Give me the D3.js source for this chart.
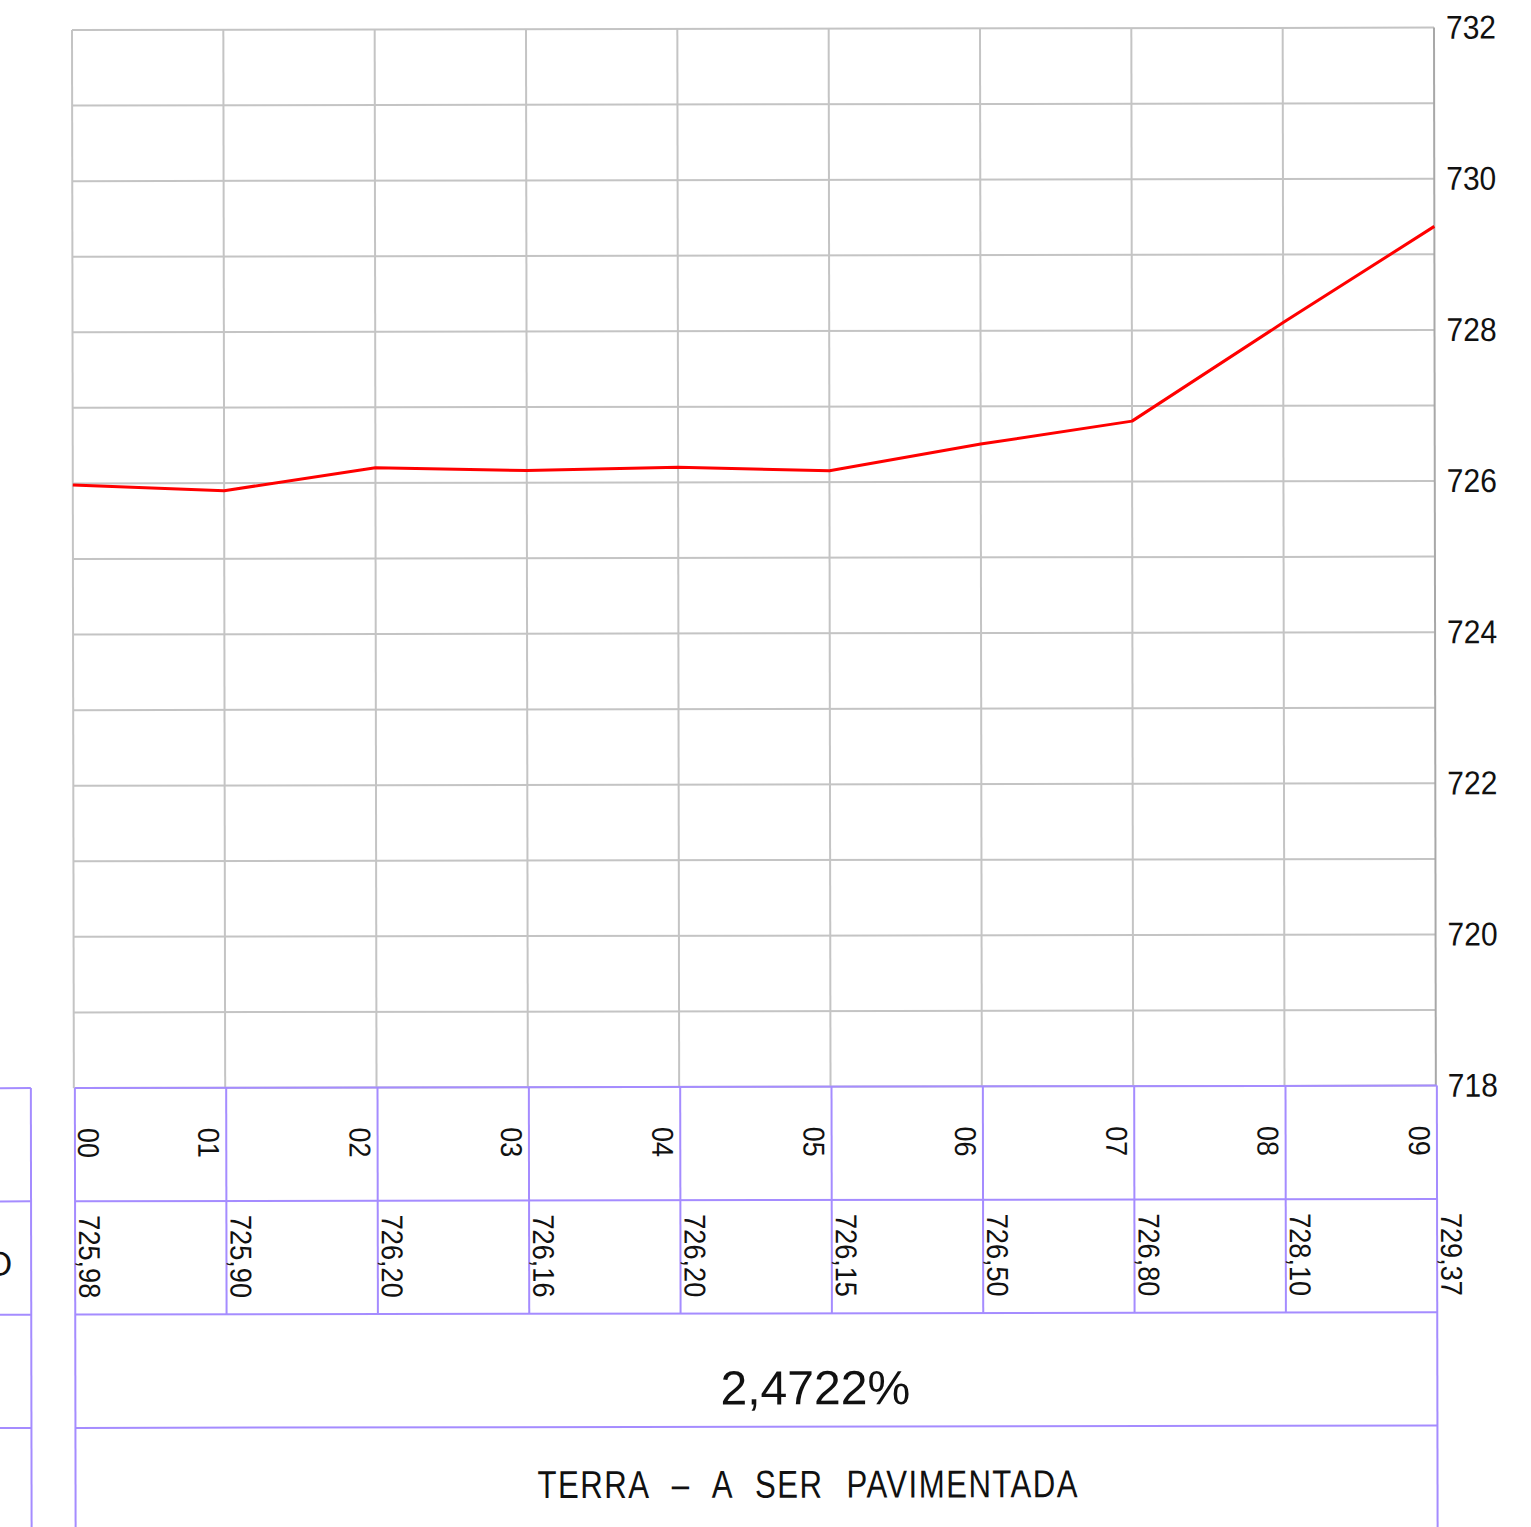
<html>
   <head>
        <meta charset="utf-8">
        <script src="https://cdnjs.cloudflare.com/ajax/libs/d3/7.8.5/d3.min.js"></script>
        <style>
            body { margin: 0; background: white; }
            svg { display: block; }
        </style>
    </head>

   <body>
        <svg width="1531" height="1527"></svg>
        <script>
            // profile data
            const stations = ["00", "01", "02", "03", "04", "05", "06", "07", "08", "09"];
            const elevations = [725.98, 725.90, 726.20, 726.16, 726.20, 726.15, 726.50, 726.80, 728.10, 729.37];
            const yTicks = [718, 720, 722, 724, 726, 728, 730, 732];
            const slopeLabel = "2,4722%";
            const surfaceLabel = "TERRA – A SER PAVIMENTADA";
            const legendLabel = "COTA DO TERRENO";

            const font = "'Liberation Sans', Arial, sans-serif";
            const gridColor = "#c4c4c4";
            const purple = "#a58cff";

            const gLeft = 72, gRight = 1434, gTop = 30, gBottom = 1088;
            const rowH = 113.3;

            const ptBr = d3.formatLocale({decimal: ",", thousands: ".", grouping: [3], currency: ["R$", ""]});
            const fmt = ptBr.format(".2f");

            const x = d3.scaleLinear()
                        .domain([0, stations.length - 1])
                        .range([gLeft, gRight]);

            const y = d3.scaleLinear()
                        .domain([718, 732])
                        .range([gBottom, gTop]);

            // the whole sheet is very slightly rotated, like the CAD plot
            const main = d3.select("svg")
                           .append("g")
                           .attr("transform", `rotate(-0.1, ${gLeft}, ${gTop})`);

            // grid
            main.append("g")
                .selectAll("line")
                .data(y.ticks(14))
                .join("line")
                .attr("x1", gLeft)
                .attr("x2", gRight)
                .attr("y1", d => y(d))
                .attr("y2", d => y(d))
                .attr("stroke", gridColor)
                .attr("stroke-width", 2);

            main.append("g")
                .selectAll("line")
                .data(stations)
                .join("line")
                .attr("x1", (d, i) => x(i))
                .attr("x2", (d, i) => x(i))
                .attr("y1", gTop)
                .attr("y2", gBottom)
                .attr("stroke", (d, i) => i === stations.length - 1 ? "#a8a8a8" : gridColor)
                .attr("stroke-width", 2);

            // elevation labels on the right
            let yAxis = d3.axisRight(y)
                          .tickValues(yTicks)
                          .tickSize(0)
                          .tickPadding(12);

            let axisG = main.append("g")
                            .attr("transform", `translate(${gRight}, 0)`)
                            .call(yAxis);
            axisG.select(".domain").remove();
            axisG.selectAll("text")
                 .attr("fill", "#111")
                 .attr("font-size", 33)
                 .attr("font-family", font)
                 .attr("textLength", 50)
                 .attr("lengthAdjust", "spacingAndGlyphs");

            // ground line
            const line = d3.line()
                           .x((d, i) => x(i))
                           .y(d => y(d));

            main.append("path")
                .datum(elevations)
                .attr("d", line)
                .attr("fill", "none")
                .attr("stroke", "#ff0000")
                .attr("stroke-width", 3)
                .attr("stroke-linejoin", "round");

            // table under the profile
            const table = main.append("g");
            const rows = [gBottom, gBottom + rowH, gBottom + 2 * rowH, gBottom + 3 * rowH, gBottom + 4 * rowH];

            table.selectAll(".hrow")
                 .data(rows.slice(0, 4))
                 .join("line")
                 .attr("class", "hrow")
                 .attr("x1", gLeft + 1)
                 .attr("x2", gRight + 1)
                 .attr("y1", d => d)
                 .attr("y2", d => d)
                 .attr("stroke", purple)
                 .attr("stroke-width", 2);

            table.selectAll(".vcol")
                 .data(stations)
                 .join("line")
                 .attr("class", "vcol")
                 .attr("x1", (d, i) => x(i) + 1)
                 .attr("x2", (d, i) => x(i) + 1)
                 .attr("y1", gBottom)
                 .attr("y2", (d, i) => (i === 0 || i === stations.length - 1) ? rows[4] : rows[2])
                 .attr("stroke", purple)
                 .attr("stroke-width", 2);

            // legend column, mostly off the sheet
            table.selectAll(".lrow")
                 .data(rows.slice(0, 4))
                 .join("line")
                 .attr("class", "lrow")
                 .attr("x1", -20)
                 .attr("x2", 29)
                 .attr("y1", d => d)
                 .attr("y2", d => d)
                 .attr("stroke", purple)
                 .attr("stroke-width", 2);

            table.append("line")
                 .attr("x1", 29)
                 .attr("x2", 29)
                 .attr("y1", gBottom)
                 .attr("y2", rows[4])
                 .attr("stroke", purple)
                 .attr("stroke-width", 2);

            table.append("text")
                 .text(legendLabel)
                 .attr("x", 10)
                 .attr("y", rows[1] + 74)
                 .attr("text-anchor", "end")
                 .attr("font-size", 34)
                 .attr("font-family", font)
                 .attr("fill", "#111");

            // station numbers
            table.selectAll(".sta")
                 .data(stations)
                 .join("text")
                 .attr("class", "sta")
                 .text(d => d)
                 .attr("transform", (d, i) => {
                    let bx = i === 0 ? x(i) + 4 : x(i) - 27;
                    return `translate(${bx}, ${gBottom + 40}) rotate(90)`;
                 })
                 .attr("font-size", 30)
                 .attr("font-family", font)
                 .attr("textLength", 30)
                 .attr("lengthAdjust", "spacingAndGlyphs")
                 .attr("fill", "#111");

            // ground elevations
            table.selectAll(".cota")
                 .data(elevations)
                 .join("text")
                 .attr("class", "cota")
                 .text(d => fmt(d))
                 .attr("transform", (d, i) => `translate(${x(i) + 5}, ${rows[1] + 14}) rotate(90)`)
                 .attr("font-size", 30)
                 .attr("font-family", font)
                 .attr("textLength", 83)
                 .attr("lengthAdjust", "spacingAndGlyphs")
                 .attr("fill", "#111");

            // slope and surface
            table.append("text")
                 .text(slopeLabel)
                 .attr("x", 718)
                 .attr("y", rows[2] + 91)
                 .attr("font-size", 48)
                 .attr("font-family", font)
                 .attr("textLength", 190)
                 .attr("lengthAdjust", "spacingAndGlyphs")
                 .attr("fill", "#111");

            // CAD text is narrow with wide gaps: squeeze glyphs, then spread
            table.append("g")
                 .attr("transform", `translate(535, ${rows[3] + 71}) scale(0.8, 1)`)
                 .append("text")
                 .text(surfaceLabel)
                 .attr("x", 0)
                 .attr("y", 0)
                 .attr("font-size", 39)
                 .attr("font-family", font)
                 .attr("word-spacing", 16)
                 .attr("textLength", 540 / 0.8)
                 .attr("lengthAdjust", "spacing")
                 .attr("fill", "#111");
        </script>
   </body>
</html>
